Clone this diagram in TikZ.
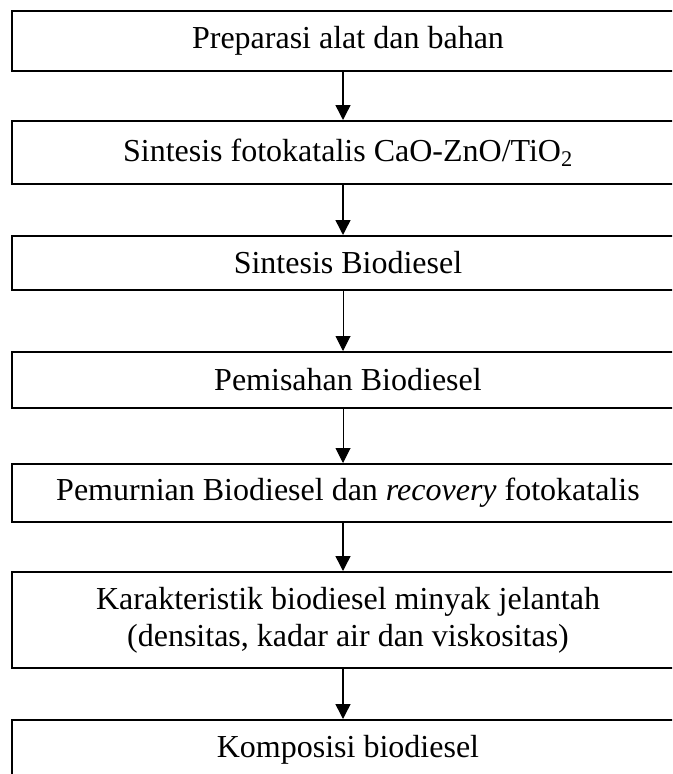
\documentclass[tikz,border=0pt]{standalone}
\usepackage{fontspec}
\setmainfont{Liberation Serif}
\usetikzlibrary{arrows.meta}
\tikzset{
  box/.style={draw=black, line width=1.5pt, rectangle, minimum width=504pt, inner sep=0pt,
    align=center, font=\fontsize{24}{27.75}\selectfont},
  flow/.style={draw=black, line width=1.1pt, -{Triangle[width=11.25pt,length=11.25pt]}},
  thinflow/.style={flow, line width=0.75pt}
}
\begin{document}
\begin{tikzpicture}[x=0.75pt, y=-0.75pt]
\path[use as bounding box] (0,0) rectangle (672,774);
\clip (0,0) rectangle (672,774);
\coordinate (ax) at (343,0);
\node[box, minimum height=45pt]    (b1) at (348,41)    {Preparasi alat dan bahan};
\node[box, minimum height=47.25pt] (b2) at (348,152.5) {Sintesis fotokatalis CaO-ZnO/TiO\textsubscript{2}};
\node[box, minimum height=40.5pt]  (b3) at (348,263)   {Sintesis Biodiesel};
\node[box, minimum height=42pt]    (b4) at (348,380)   {Pemisahan Biodiesel};
\node[box, minimum height=43.5pt]  (b5) at (348,493)   {Pemurnian Biodiesel dan \textit{recovery} fotokatalis};
\node[box, minimum height=72pt]    (b6) at (348,620)   {Karakteristik biodiesel minyak jelantah\\(densitas, kadar air dan viskositas)};
\node[box, minimum height=45pt]    (b7) at (348,750)   {Komposisi biodiesel};
\draw[flow] (b1.south -| ax) -- (b2.north -| ax);
\draw[flow] (b2.south -| ax) -- (b3.north -| ax);
\draw[thinflow] (b3.south -| ax) -- (b4.north -| ax);
\draw[thinflow] (b4.south -| ax) -- (b5.north -| ax);
\draw[flow] (b5.south -| ax) -- (b6.north -| ax);
\draw[flow] (b6.south -| ax) -- (b7.north -| ax);
\end{tikzpicture}
\end{document}
